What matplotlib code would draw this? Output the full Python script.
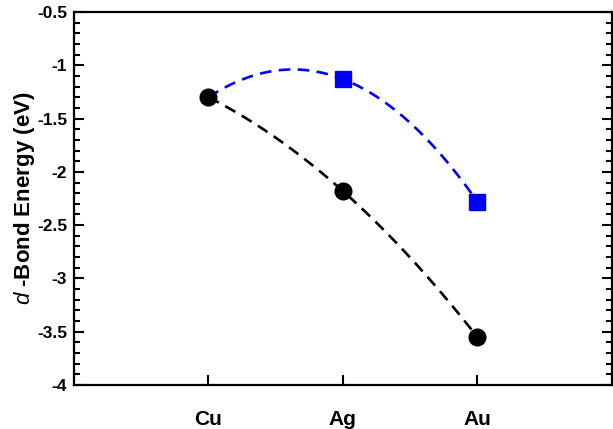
import numpy as np
import matplotlib
matplotlib.use("Agg")
import matplotlib.pyplot as plt
from matplotlib.ticker import MultipleLocator

plt.rcParams['font.family'] = ['Liberation Sans', 'DejaVu Sans']
plt.rcParams['mathtext.fontset'] = 'custom'
plt.rcParams['mathtext.it'] = 'Liberation Sans:italic'
plt.rcParams['mathtext.rm'] = 'Liberation Sans'

metals = ['Cu', 'Ag', 'Au']
black_vals = [-1.30, -2.18, -3.55]
blue_vals = [-1.30, -1.13, -2.28]

fig = plt.figure(figsize=(6.13, 4.29), dpi=100)
ax = fig.add_axes([0.1207, 0.1026, 0.8773, 0.8694])

x = np.arange(1, len(metals) + 1)
xs = np.linspace(x[0], x[-1], 200)

for vals, color in [(black_vals, 'black'), (blue_vals, 'blue')]:
    coef = np.polyfit(x, vals, 2)
    ax.plot(xs, np.polyval(coef, xs), color=color, lw=1.9, ls=(0, (4.4, 2.8)), zorder=2)

ax.plot(x, black_vals, 'o', color='black', ms=12, zorder=3)
ax.plot(x[1:], blue_vals[1:], 's', color='blue', ms=11, zorder=3)

ax.set_xlim(0, 4)
ax.set_ylim(-4, -0.5)
ax.set_xticks(x)
ax.set_xticklabels(metals, fontsize=15, fontweight='bold')
ax.yaxis.set_minor_locator(MultipleLocator(0.1))
yt = np.arange(-4, -0.49, 0.5)
ax.set_yticks(yt)
ax.set_yticklabels([('%g' % v) for v in yt], fontsize=12.5, fontweight='bold')

ax.tick_params(axis='y', which='both', direction='in', left=True, right=True, width=1.5)
ax.tick_params(axis='y', which='major', length=7, pad=5)
ax.tick_params(axis='y', which='minor', length=4)
ax.tick_params(axis='x', which='major', direction='in', bottom=True, top=False, length=7, width=1.5, pad=18)
for s in ax.spines.values():
    s.set_linewidth(1.6)

ax.set_ylabel(r'$d$ -Bond Energy (eV)', fontsize=16, fontweight='bold', labelpad=0)

fig.savefig('out.png', dpi=100)
